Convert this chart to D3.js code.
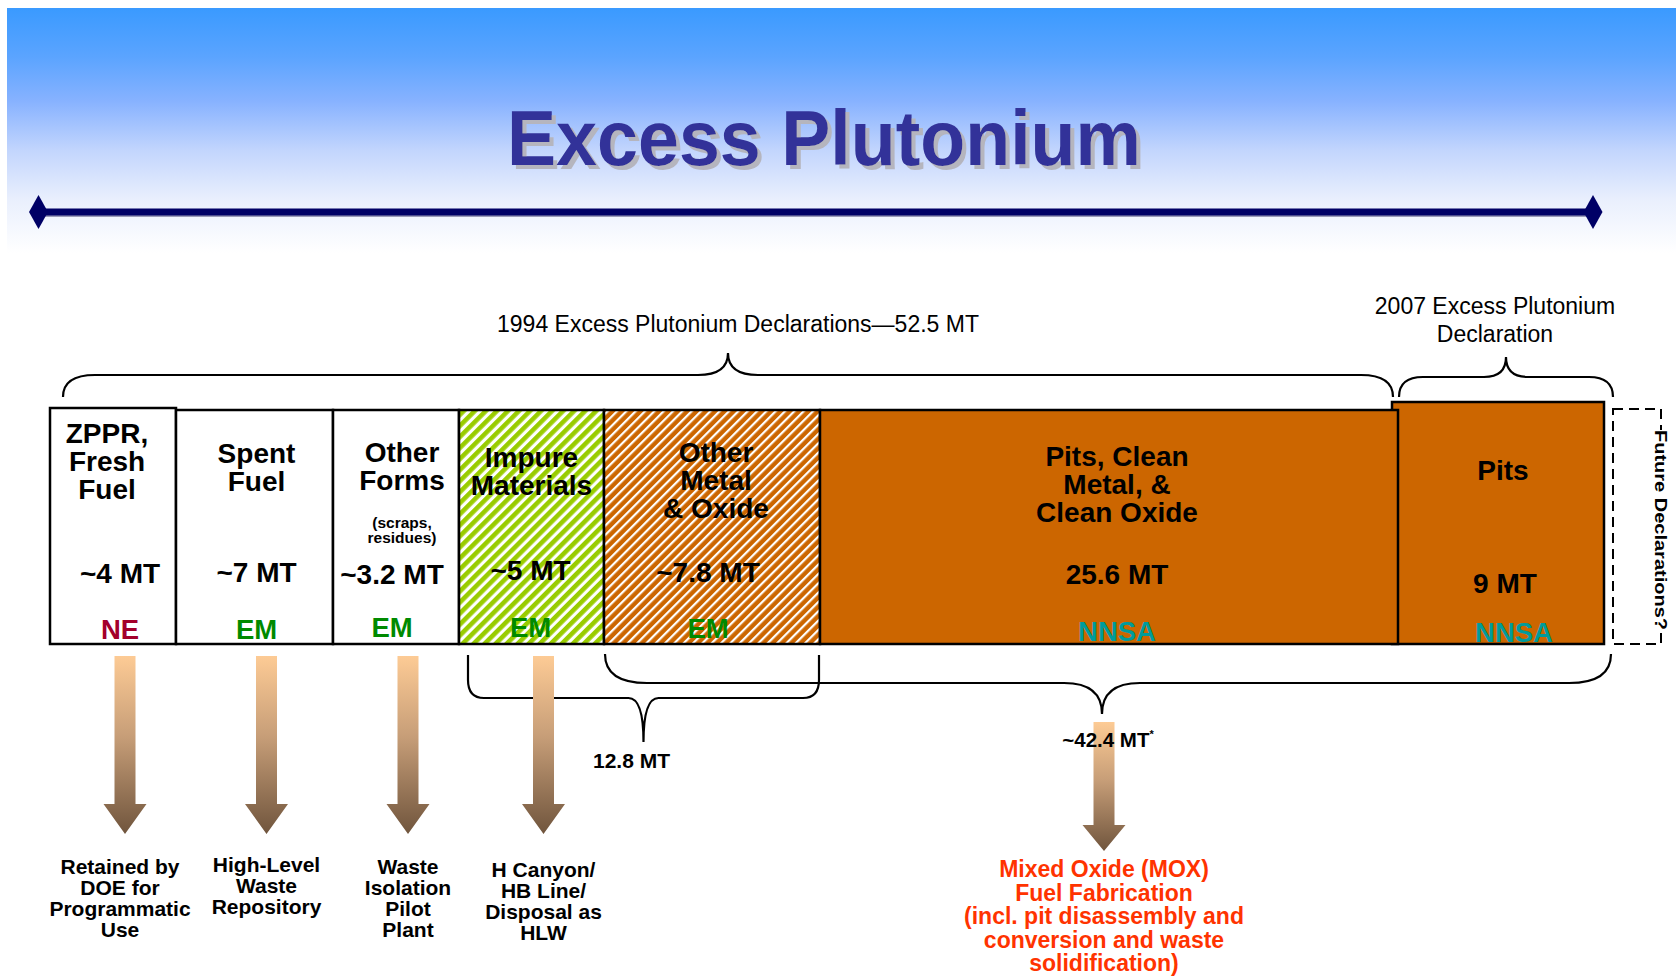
<!DOCTYPE html>
<html>
<head>
<meta charset="utf-8">
<title>Excess Plutonium</title>
<script src="https://cdn.jsdelivr.net/npm/d3@7"></script>
<style>
  body { margin: 0; background: #fff; }
  svg { display: block; font-family: "Liberation Sans", Arial, Helvetica, sans-serif; }
</style>
</head>
<body>
<div id="chart"></div>
<script>
// ---- data ----
const categories = [
    ["ZPPR,", "Fresh", "Fuel"],
    ["Spent", "Fuel"],
    ["Other", "Forms"],
    ["Impure", "Materials"],
    ["Other", "Metal", "& Oxide"],
    ["Pits, Clean", "Metal, &", "Clean Oxide"],
    ["Pits"]
];
const amounts = [4, 7, 3.2, 5, 7.8, 25.6, 9];
const approximate = [true, true, true, true, true, false, false];
const offices = ["NE", "EM", "EM", "EM", "EM", "NNSA", "NNSA"];
const subNotes = [null, null, ["(scraps,", "residues)"], null, null, null, null];

const declaration1994 = "1994 Excess Plutonium Declarations\u201452.5 MT";
const declaration2007 = ["2007 Excess Plutonium", "Declaration"];
const futureLabel = "Future Declarations?";

// subtotal groups (index of first / last category)
const subtotalGroups = [[3, 4], [4, 6]];
const subtotalPrefix = ["", "~"];
const subtotalMark = ["", "*"];

const dispositions = [
    ["Retained by", "DOE for", "Programmatic", "Use"],
    ["High-Level", "Waste", "Repository"],
    ["Waste", "Isolation", "Pilot", "Plant"],
    ["H Canyon/", "HB Line/", "Disposal as", "HLW"],
    ["Mixed Oxide (MOX)", "Fuel Fabrication", "(incl. pit disassembly and", "conversion and waste", "solidification)"]
];

// ---- layout ----
const width = 1676;
const height = 977;
const colUnits = [126, 157, 126, 145, 216, 575, 209];   // relative column widths
const boxTop = 410, boxBottom = 644;
const topRaise = [2, 0, 0, 0, 0, 0, 8];
const labelY = [443, 463, 462, 467, 462, 466, 480];
const labelDx = [-6, 2, 6, 0, 4, 8, 5];
const amountY = [583, 582, 584, 580, 582, 584, 593];
const amountDx = [7, 2, -4, -1, -4, 8, 7];
const officeY = [639, 639, 637, 637, 638, 641, 642];
const officeDx = [7, 2, -4, -1, -4, 8, 16];
const boxFill = ["#fff", "#fff", "#fff", "url(#hatchGreen)", "url(#hatchOrange)", "#cc6600", "#cc6600"];
const officeColor = { NE: "#a3002b", EM: "#008a00", NNSA: "#009b9b" };

const svg = d3.select('#chart')
    .append('svg')
    .attr('width', width)
    .attr('height', height);

const defs = svg.append('defs');

const bg = defs.append('linearGradient')
    .attr('id', 'bgGrad')
    .attr('x1', 0).attr('y1', 0).attr('x2', 0).attr('y2', 1);
[[0, '#3a9aff'], [0.2, '#5ba4ff'], [0.38, '#87b2ff'], [0.58, '#c2d5fd'], [0.78, '#e9effd'], [1, '#ffffff']]
    .forEach(s => bg.append('stop').attr('offset', s[0]).attr('stop-color', s[1]));

const arrowGrad = defs.append('linearGradient')
    .attr('id', 'arrowGrad')
    .attr('x1', 0).attr('y1', 0).attr('x2', 0).attr('y2', 1);
arrowGrad.append('stop').attr('offset', 0).attr('stop-color', '#fdcb95');
arrowGrad.append('stop').attr('offset', 0.45).attr('stop-color', '#c79e78');
arrowGrad.append('stop').attr('offset', 1).attr('stop-color', '#70553d');

// gray drop shadow for the title
const shadow = defs.append('filter')
    .attr('id', 'titleShadow')
    .attr('x', '-5%').attr('y', '-20%')
    .attr('width', '110%').attr('height', '140%');
shadow.append('feOffset').attr('in', 'SourceAlpha').attr('dx', 4).attr('dy', 4).attr('result', 'off');
shadow.append('feFlood').attr('flood-color', '#b5b5be').attr('result', 'col');
shadow.append('feComposite').attr('in', 'col').attr('in2', 'off').attr('operator', 'in').attr('result', 'sh');
const merge = shadow.append('feMerge');
merge.append('feMergeNode').attr('in', 'sh');
merge.append('feMergeNode').attr('in', 'SourceGraphic');

function hatch(id, period, stripe, bgColor, stripeColor) {
    const p = defs.append('pattern')
        .attr('id', id)
        .attr('patternUnits', 'userSpaceOnUse')
        .attr('width', period)
        .attr('height', period)
        .attr('patternTransform', 'rotate(45)');
    p.append('rect').attr('width', period).attr('height', period).attr('fill', bgColor);
    p.append('rect').attr('width', stripe).attr('height', period).attr('fill', stripeColor);
}
hatch('hatchGreen', 7.8, 4.6, '#ffffff', '#99cc00');
hatch('hatchOrange', 6.6, 2.2, '#cc6600', '#ffffff');

// ---- header ----
svg.append('rect')
    .attr('x', 7).attr('y', 8)
    .attr('width', width - 7).attr('height', 245)
    .attr('fill', 'url(#bgGrad)');

svg.append('text')
    .attr('x', 824)
    .attr('y', 165)
    .attr('text-anchor', 'middle')
    .attr('textLength', 634)
    .attr('lengthAdjust', 'spacingAndGlyphs')
    .attr('font-size', 77)
    .attr('font-weight', 'bold')
    .attr('fill', '#333399')
    .attr('filter', 'url(#titleShadow)')
    .text('Excess Plutonium');

const ruleY = 212;
svg.append('line')
    .attr('x1', 38).attr('x2', 1593)
    .attr('y1', ruleY + 3).attr('y2', ruleY + 3)
    .attr('stroke', '#9a9ab8').attr('stroke-width', 4);
svg.append('line')
    .attr('x1', 38).attr('x2', 1593)
    .attr('y1', ruleY).attr('y2', ruleY)
    .attr('stroke', '#000066').attr('stroke-width', 7);
svg.selectAll('.diamond')
    .data([38.5, 1593])
    .enter()
    .append('path')
    .classed('diamond', true)
    .attr('d', d => `M${d - 9.5},${ruleY} L${d},${ruleY - 17} L${d + 9.5},${ruleY} L${d},${ruleY + 17} Z`)
    .attr('fill', '#000066');

// ---- scales ----
const edges = d3.cumsum([0, ...colUnits]);
const xScale = d3.scaleLinear()
    .domain([0, d3.sum(colUnits)])
    .range([50, 1604]);

const boxes = categories.map((c, i) => {
    let x0 = xScale(edges[i]);
    let x1 = xScale(edges[i + 1]);
    if (i === 5) x1 += 3;
    if (i === 6) x0 -= 3;
    return { i, x0, x1, cx: (x0 + x1) / 2, top: boxTop - topRaise[i] };
});

// ---- braces ----
function brace(x1, x2, yEnd, yFlat, yTip, rx, ry, tipRx, xm) {
    xm = xm === undefined ? (x1 + x2) / 2 : xm;
    const s = Math.sign(yFlat - yEnd);
    const p = d3.path();
    p.moveTo(x1, yEnd);
    p.lineTo(x1, yFlat - s * ry);
    p.quadraticCurveTo(x1, yFlat, x1 + rx, yFlat);
    p.lineTo(xm - tipRx, yFlat);
    p.quadraticCurveTo(xm, yFlat, xm, yTip);
    p.quadraticCurveTo(xm, yFlat, xm + tipRx, yFlat);
    p.lineTo(x2 - rx, yFlat);
    p.quadraticCurveTo(x2, yFlat, x2, yFlat - s * ry);
    p.lineTo(x2, yEnd);
    return p.toString();
}

const braceG = svg.append('g')
    .attr('fill', 'none')
    .attr('stroke', '#000')
    .attr('stroke-width', 2.2);

const b94 = [boxes[0].x0 + 13, boxes[6].x0 + 1];
braceG.append('path').attr('d', brace(b94[0], b94[1], 397, 375, 353, 32, 22, 30));
const dashX0 = boxes[6].x1 + 9;
const b07 = [boxes[6].x0 + 7, dashX0];
braceG.append('path').attr('d', brace(b07[0], b07[1], 397, 377, 357, 24, 20, 22));

svg.append('text')
    .attr('x', 738)
    .attr('y', 332)
    .attr('text-anchor', 'middle')
    .attr('font-size', 23)
    .text(declaration1994);
svg.append('text')
    .attr('text-anchor', 'middle')
    .attr('font-size', 23)
    .selectAll('tspan')
    .data(declaration2007)
    .enter()
    .append('tspan')
    .attr('x', 1495)
    .attr('y', (d, i) => 313.5 + i * 28)
    .text(d => d);

// ---- boxes ----
const boxG = svg.append('g');
// draw the 2007 box first so the 1994 box border sits on top
const drawOrder = [6, 0, 1, 2, 3, 4, 5];
boxG.selectAll('.box')
    .data(drawOrder.map(i => boxes[i]))
    .enter()
    .append('rect')
    .classed('box', true)
    .attr('x', d => d.x0)
    .attr('y', d => d.top)
    .attr('width', d => d.x1 - d.x0)
    .attr('height', d => boxBottom - d.top)
    .attr('fill', d => boxFill[d.i])
    .attr('stroke', '#000')
    .attr('stroke-width', 2.5);

// dashed future box
svg.append('rect')
    .attr('x', dashX0)
    .attr('y', 409)
    .attr('width', 48)
    .attr('height', boxBottom - 409)
    .attr('fill', 'none')
    .attr('stroke', '#000')
    .attr('stroke-width', 2)
    .attr('stroke-dasharray', '10,6');

const futureG = svg.append('g')
    .attr('transform', `translate(${dashX0 + 48},${530}) rotate(90)`);
futureG.append('rect')
    .attr('x', -100).attr('y', -9)
    .attr('width', 200).attr('height', 18)
    .attr('fill', '#fff');
futureG.append('text')
    .attr('text-anchor', 'middle')
    .attr('dy', 6)
    .attr('font-size', 17)
    .attr('font-weight', 'bold')
    .attr('textLength', 200)
    .attr('lengthAdjust', 'spacingAndGlyphs')
    .text(futureLabel);

const labelG = svg.append('g')
    .attr('text-anchor', 'middle')
    .attr('font-weight', 'bold');

boxes.forEach(b => {
    labelG.append('text')
        .attr('font-size', 28)
        .selectAll('tspan')
        .data(categories[b.i])
        .enter()
        .append('tspan')
        .attr('x', b.cx + labelDx[b.i])
        .attr('y', (d, k) => labelY[b.i] + k * 28)
        .text(d => d);

    if (subNotes[b.i]) {
        labelG.append('text')
            .attr('font-size', 15.5)
            .selectAll('tspan')
            .data(subNotes[b.i])
            .enter()
            .append('tspan')
            .attr('x', b.cx + labelDx[b.i])
            .attr('y', (d, k) => 528 + k * 15)
            .text(d => d);
    }

    labelG.append('text')
        .attr('x', b.cx + amountDx[b.i])
        .attr('y', amountY[b.i])
        .attr('font-size', 28)
        .text((approximate[b.i] ? '~' : '') + amounts[b.i] + ' MT');

    labelG.append('text')
        .attr('x', b.cx + officeDx[b.i])
        .attr('y', officeY[b.i])
        .attr('font-size', 27.5)
        .attr('fill', officeColor[offices[b.i]])
        .text(offices[b.i]);
});

// ---- subtotal braces ----
const fmt = d3.format('.1f');
const sub = subtotalGroups.map(([a, z], k) => {
    const x0 = k === 0 ? boxes[a].x0 + 9 : boxes[a].x0 + 1;
    const x1 = k === 0 ? boxes[z].x1 - 1 : dashX0 - 2;
    return {
        x0, x1, xm: k === 0 ? (x0 + x1) / 2 : 1102,
        label: subtotalPrefix[k] + fmt(d3.sum(amounts.slice(a, z + 1))) + ' MT',
        mark: subtotalMark[k]
    };
});
braceG.append('path').attr('d', brace(sub[0].x0, sub[0].x1, 655, 698, 742, 16, 18, 15, sub[0].xm));
braceG.append('path').attr('d', brace(sub[1].x0, sub[1].x1, 654, 683, 714, 42, 29, 38, sub[1].xm));

// ---- arrows ----
function arrowPath(cx, top, headY, tipY) {
    const sw = 21 / 2, hw = 43 / 2;
    return d3.line()([
        [cx - sw, top], [cx + sw, top], [cx + sw, headY], [cx + hw, headY],
        [cx, tipY], [cx - hw, headY], [cx - sw, headY]
    ]) + 'Z';
}
const arrows = [0, 1, 2, 3].map(i => ({ cx: boxes[i].cx + 12, top: 656, headY: 804, tipY: 834 }));
arrows.push({ cx: sub[1].xm + 2, top: 722, headY: 825, tipY: 851 });

svg.append('g')
    .selectAll('path')
    .data(arrows)
    .enter()
    .append('path')
    .attr('d', d => arrowPath(d.cx, d.top, d.headY, d.tipY))
    .attr('fill', 'url(#arrowGrad)');

const subText = svg.append('g')
    .attr('text-anchor', 'middle')
    .attr('font-weight', 'bold');
subText.append('text')
    .attr('x', sub[0].xm - 12)
    .attr('y', 768)
    .attr('font-size', 21)
    .text(sub[0].label);
const t42 = subText.append('text')
    .attr('x', sub[1].xm + 6)
    .attr('y', 747)
    .attr('font-size', 20.5)
    .text(sub[1].label);
t42.append('tspan')
    .attr('font-size', 11)
    .attr('dy', -9)
    .text(sub[1].mark);

// ---- disposition labels ----
const dispY = [874, 872, 874, 877, 877];
const dispG = svg.append('g')
    .attr('text-anchor', 'middle')
    .attr('font-weight', 'bold');
dispositions.forEach((lines, i) => {
    const big = i === 4;
    const cx = i === 0 ? arrows[i].cx - 5 : arrows[i].cx;
    dispG.append('text')
        .attr('font-size', big ? 23 : 21)
        .attr('fill', big ? '#ff3300' : '#000')
        .selectAll('tspan')
        .data(lines)
        .enter()
        .append('tspan')
        .attr('x', cx)
        .attr('y', (d, k) => dispY[i] + k * (big ? 23.6 : 21))
        .text(d => d);
});
</script>
</body>
</html>
